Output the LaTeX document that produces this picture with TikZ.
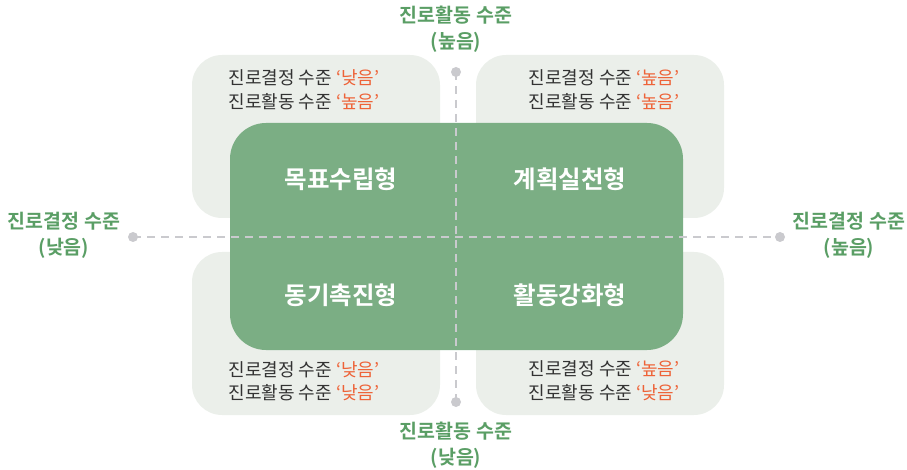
\documentclass[tikz,border=0pt]{standalone}
\usepackage{fontspec}
\newfontfamily\kr{Noto Sans CJK KR}
\newfontfamily\krb{Noto Sans CJK KR Bold}
\definecolor{boxbg}{HTML}{EBEFEA}
\definecolor{mainbg}{HTML}{7BAE84}
\definecolor{axisgreen}{HTML}{5A9E65}
\definecolor{dashgray}{HTML}{CACACE}
\definecolor{txtdark}{HTML}{333333}
\definecolor{hiorange}{HTML}{EE6338}
\tikzset{
  lightbox/.style={fill=boxbg, rounded corners=30pt},
  axislabel/.style={text=axisgreen, font=\krb\fontsize{19.5}{26}\selectfont, align=center, inner sep=0pt},
  boxtext/.style={text=txtdark, font=\kr\fontsize{18}{23.5}\selectfont, align=center, inner sep=0pt},
  quadlabel/.style={text=white, font=\krb\fontsize{24.5}{28}\selectfont, inner sep=0pt},
  axisdot/.style={circle, fill=dashgray, minimum size=10pt, inner sep=0pt},
  axisline/.style={draw=dashgray, line width=2.6pt, dash pattern=on 8pt off 6pt},
}
\newcommand{\hi}[1]{\textcolor{hiorange}{‘#1’}}
\begin{document}
\begin{tikzpicture}[x=1pt,y=-1pt]
\useasboundingbox (0,0) rectangle (907,470);
% light boxes
\fill[lightbox] (192,55) rectangle (440,218);
\fill[lightbox] (476,55) rectangle (724,218);
\fill[lightbox] (192,252) rectangle (440,415);
\fill[lightbox] (476,252) rectangle (724,415);
% main green box
\fill[mainbg, rounded corners=36pt] (230,123) rectangle (683,350);
% axis dots
\node[axisdot] (dl) at (133,237) {};
\node[axisdot] (dr) at (780,237) {};
\node[axisdot] (dt) at (456,72) {};
\node[axisdot] (db) at (456,402) {};
\draw[axisline] (dl.center) -- (dr.center);
\draw[axisline] (dt.center) -- (db.center);
% axis labels
\node[axislabel] (lt) at (456,29) {진로활동 수준\\(높음)};
\node[axislabel] (lb) at (456,445) {진로활동 수준\\(낮음)};
\node[axislabel] (ll) at (64,235) {진로결정 수준\\(낮음)};
\node[axislabel] (lr) at (849,235) {진로결정 수준\\(높음)};
% box texts
\node[boxtext] (t1) at (304,90) {진로결정 수준 \hi{낮음}\\진로활동 수준 \hi{높음}};
\node[boxtext] (t2) at (604,90) {진로결정 수준 \hi{높음}\\진로활동 수준 \hi{높음}};
\node[boxtext] (t3) at (304,381) {진로결정 수준 \hi{낮음}\\진로활동 수준 \hi{낮음}};
\node[boxtext] (t4) at (604,381) {진로결정 수준 \hi{높음}\\진로활동 수준 \hi{낮음}};
% quadrant labels
\node[quadlabel] (q1) at (341,179) {목표수립형};
\node[quadlabel] (q2) at (570,179) {계획실천형};
\node[quadlabel] (q3) at (341,295) {동기촉진형};
\node[quadlabel] (q4) at (570,295) {활동강화형};
\end{tikzpicture}
\end{document}
